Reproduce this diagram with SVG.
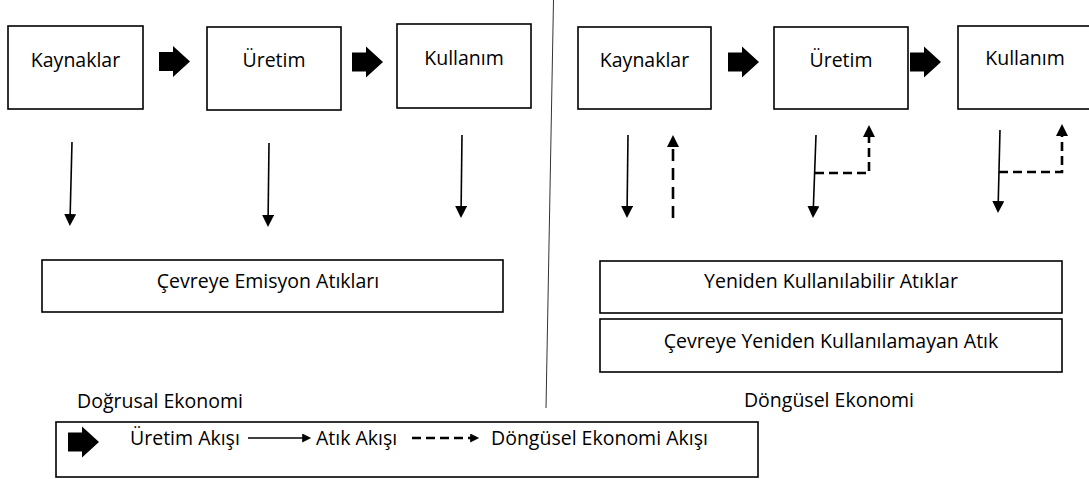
<svg xmlns="http://www.w3.org/2000/svg" width="1089" height="479" viewBox="0 0 1089 479">
<style>
.box{fill:#fff;stroke:#000;stroke-width:1.6}
.t{font-family:"Open Sans","Noto Sans",sans-serif;font-size:19.5px;fill:#000}
.c{text-anchor:middle}
.sol{fill:none;stroke:#000;stroke-width:1.6}
.dash{fill:none;stroke:#000;stroke-width:2.6;stroke-dasharray:12 7}
.hd{fill:none;stroke:#000;stroke-width:2.6;stroke-dasharray:9 5}
.blk{fill:#000}
</style>
<defs>
<marker id="ah" viewBox="0 0 12 12" refX="3" refY="6" markerWidth="12" markerHeight="12" markerUnits="userSpaceOnUse" orient="auto">
<path d="M0,0 L12,6 L0,12 Z" fill="#000"/>
</marker>
<marker id="ahs" viewBox="0 0 10 10" refX="2" refY="5" markerWidth="10" markerHeight="9" markerUnits="userSpaceOnUse" orient="auto">
<path d="M0,0 L10,5 L0,10 Z" fill="#000"/>
</marker>
<path id="blk" d="M0,-9.5 H14 V-15.5 L31,0 L14,15.5 V9.5 H0 Z"/>
</defs>

<line x1="553.5" y1="0" x2="546" y2="408" stroke="#333" stroke-width="1"/>

<g id="l-kaynaklar"><rect class="box" x="8" y="26" width="135" height="83"/><text class="t c" x="75.5" y="67">Kaynaklar</text></g>
<g id="l-uretim"><rect class="box" x="207" y="27" width="134" height="83"/><text class="t c" x="274" y="67">Üretim</text></g>
<g id="l-kullanim"><rect class="box" x="397" y="24" width="134" height="84"/><text class="t c" x="464" y="65">Kullanım</text></g>
<g id="l-cevre"><rect class="box" x="42" y="260" width="461" height="52"/><text class="t c" x="268" y="288">Çevreye Emisyon Atıkları</text></g>
<g id="l-title"><text class="t" x="77" y="408">Doğrusal Ekonomi</text></g>

<g id="r-kaynaklar"><rect class="box" x="578" y="27" width="133" height="82"/><text class="t c" x="644.5" y="67">Kaynaklar</text></g>
<g id="r-uretim"><rect class="box" x="774" y="27" width="134" height="82"/><text class="t c" x="841" y="67">Üretim</text></g>
<g id="r-kullanim"><rect class="box" x="958" y="26" width="134" height="83"/><text class="t c" x="1025" y="65">Kullanım</text></g>
<g id="r-yeniden"><rect class="box" x="600" y="261" width="462" height="52"/><text class="t c" x="831" y="288">Yeniden Kullanılabilir Atıklar</text></g>
<g id="r-cevre"><rect class="box" x="600" y="319" width="462" height="53"/><text class="t c" x="831" y="348">Çevreye Yeniden Kullanılamayan Atık</text></g>
<g id="r-title"><text class="t c" x="829" y="407">Döngüsel Ekonomi</text></g>

<g id="connectors">
<use href="#blk" class="blk" transform="translate(159,61.5)"/>
<use href="#blk" class="blk" transform="translate(352,62)"/>
<use href="#blk" class="blk" transform="translate(728,62)"/>
<use href="#blk" class="blk" transform="translate(910,62)"/>

<path class="sol" d="M72,142 L70.1,217" marker-end="url(#ah)"/>
<path class="sol" d="M269,143 L268.1,218" marker-end="url(#ah)"/>
<path class="sol" d="M462,135 L461.1,209" marker-end="url(#ah)"/>

<path class="sol" d="M628,135 L627.1,209" marker-end="url(#ah)"/>
<path class="dash" d="M673,218 L673,144" marker-end="url(#ah)"/>

<path class="sol" d="M816,135 L813.3,209" marker-end="url(#ah)"/>
<path class="hd" d="M815,173 H869 V134" marker-end="url(#ah)"/>

<path class="sol" d="M1000,130 L998.2,204" marker-end="url(#ah)"/>
<path class="hd" d="M999,172 H1062 V133" marker-end="url(#ah)"/>
</g>

<g id="legend">
<rect class="box" x="56" y="422" width="702" height="55"/>
<use href="#blk" class="blk" transform="translate(68,442)"/>
<text class="t" x="130" y="445">Üretim Akışı</text>
<path class="sol" d="M248,438 H304" marker-end="url(#ahs)"/>
<text class="t" x="316" y="445">Atık Akışı</text>
<path d="M412,438 H472" fill="none" stroke="#000" stroke-width="2.4" stroke-dasharray="9 5" marker-end="url(#ahs)"/>
<text class="t" x="491" y="445">Döngüsel Ekonomi Akışı</text>
</g>
</svg>
